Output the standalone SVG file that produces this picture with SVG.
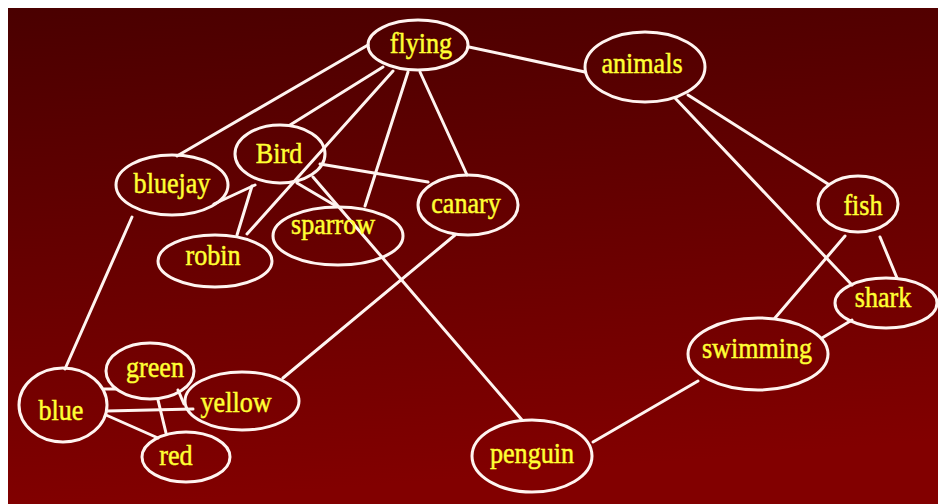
<svg xmlns="http://www.w3.org/2000/svg" width="938" height="504" viewBox="0 0 938 504">
<defs>
<linearGradient id="bg" x1="0" y1="0" x2="0.15" y2="1">
<stop offset="0" stop-color="#4a0000"/>
<stop offset="1" stop-color="#820000"/>
</linearGradient>
<style>
.n ellipse { fill: none; stroke: #fff4f0; stroke-width: 3; }
.n text { font-family: "Liberation Serif", "Times New Roman", serif; font-size: 30px; fill: #ffff33; stroke: #ffff33; stroke-width: 0.5; text-anchor: middle; transform-box: fill-box; transform-origin: center; transform: scaleX(0.87); }
#edges line { stroke: #fff4f0; stroke-width: 3; stroke-linecap: round; }
</style>
</defs>
<rect x="0" y="0" width="938" height="504" fill="#ffffff"/>
<rect x="8" y="8" width="930" height="496" fill="url(#bg)"/>
<g id="edges">
<line x1="368" y1="45" x2="177" y2="156"/>
<line x1="383" y1="67" x2="290" y2="125"/>
<line x1="393" y1="71" x2="247" y2="234"/>
<line x1="408" y1="72" x2="365" y2="206"/>
<line x1="420" y1="72" x2="467" y2="175"/>
<line x1="469" y1="47" x2="585" y2="72"/>
<line x1="320" y1="164" x2="428" y2="182"/>
<line x1="297" y1="183" x2="336" y2="206"/>
<line x1="313" y1="177" x2="522" y2="420"/>
<line x1="255" y1="185" x2="214" y2="204"/>
<line x1="252" y1="186" x2="237" y2="235"/>
<line x1="132" y1="217" x2="65" y2="369"/>
<line x1="455" y1="235" x2="283" y2="378"/>
<line x1="104" y1="389" x2="116" y2="389"/>
<line x1="107" y1="411" x2="193" y2="409"/>
<line x1="158" y1="400" x2="166" y2="433"/>
<line x1="106" y1="415" x2="158" y2="438"/>
<line x1="178" y1="390" x2="184" y2="404"/>
<line x1="688" y1="95" x2="828" y2="184"/>
<line x1="675" y1="98" x2="852" y2="285"/>
<line x1="880" y1="237" x2="897" y2="278"/>
<line x1="845" y1="236" x2="775" y2="318"/>
<line x1="852" y1="320" x2="822" y2="338"/>
<line x1="698" y1="381" x2="593" y2="442"/>
</g>
<g id="flying" class="n"><ellipse cx="418" cy="45" rx="50" ry="25"/><text x="421" y="53">flying</text></g>
<g id="animals" class="n"><ellipse cx="645" cy="67" rx="60" ry="35"/><text x="642" y="73">animals</text></g>
<g id="bird" class="n"><ellipse cx="280" cy="154" rx="45" ry="29"/><text x="279" y="163">Bird</text></g>
<g id="bluejay" class="n"><ellipse cx="172" cy="185" rx="56" ry="30"/><text x="172" y="193">bluejay</text></g>
<g id="canary" class="n"><ellipse cx="468" cy="205" rx="50" ry="30"/><text x="466" y="213">canary</text></g>
<g id="sparrow" class="n"><ellipse cx="338" cy="236" rx="65" ry="29"/><text x="333" y="234">sparrow</text></g>
<g id="robin" class="n"><ellipse cx="215" cy="261" rx="57" ry="26"/><text x="213" y="265">robin</text></g>
<g id="green" class="n"><ellipse cx="150" cy="371" rx="44" ry="28"/><text x="155" y="377">green</text></g>
<g id="yellow" class="n"><ellipse cx="242" cy="401" rx="57" ry="29"/><text x="236" y="412">yellow</text></g>
<g id="blue" class="n"><ellipse cx="63" cy="405" rx="44" ry="37"/><text x="61" y="420">blue</text></g>
<g id="red" class="n"><ellipse cx="186" cy="457" rx="44" ry="25"/><text x="176" y="465">red</text></g>
<g id="penguin" class="n"><ellipse cx="532" cy="456" rx="60" ry="36"/><text x="532" y="463">penguin</text></g>
<g id="swimming" class="n"><ellipse cx="758" cy="354" rx="70" ry="36"/><text x="757" y="358">swimming</text></g>
<g id="shark" class="n"><ellipse cx="886" cy="303" rx="51" ry="25"/><text x="883" y="307">shark</text></g>
<g id="fish" class="n"><ellipse cx="858" cy="204" rx="40" ry="28"/><text x="863" y="215">fish</text></g>
</svg>
